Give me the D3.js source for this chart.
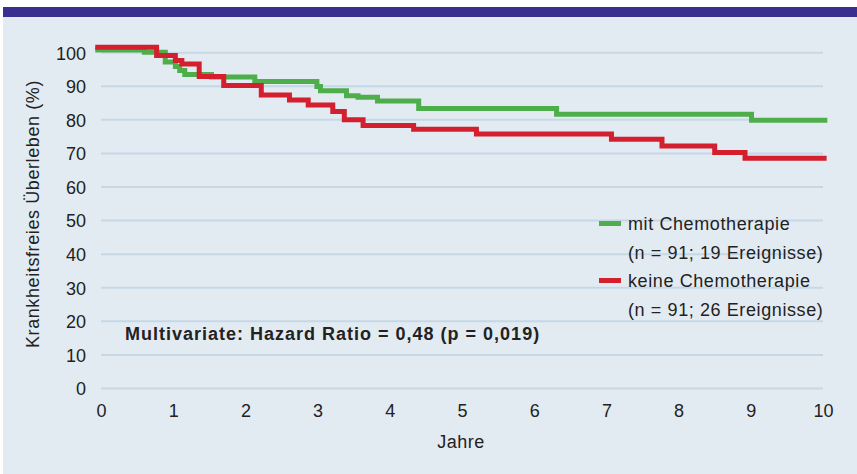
<!DOCTYPE html>
<html>
<head>
<meta charset="utf-8">
<script src="https://cdn.jsdelivr.net/npm/d3@7"></script>
<style>
  body { margin: 0; background: #fff; }
  text { font-family: "Liberation Sans", Arial, sans-serif; fill: #222; }
</style>
</head>
<body>
<script>
// survival steps: [years, percent]
var mitChemo = [
  [-0.08, 100.8], [0.60, 100.1], [0.89, 97.2], [1.03, 95.9], [1.09, 94.7],
  [1.16, 93.5], [1.53, 92.8], [2.13, 91.4], [2.99, 89.9], [3.04, 88.7],
  [3.40, 87.2], [3.56, 86.7], [3.83, 85.6], [4.40, 83.4], [6.31, 81.7],
  [9.01, 79.9], [10.06, 79.9]
];
var keineChemo = [
  [-0.08, 101.6], [0.77, 99.2], [1.03, 97.7], [1.12, 96.6], [1.36, 92.9],
  [1.70, 90.2], [2.22, 87.4], [2.61, 85.9], [2.87, 84.4], [3.21, 82.5],
  [3.37, 80.0], [3.63, 78.3], [4.33, 77.2], [5.20, 75.8], [7.07, 74.2],
  [7.77, 72.2], [8.50, 70.3], [8.92, 68.6], [10.05, 68.6]
];
var xTicks = [0, 1, 2, 3, 4, 5, 6, 7, 8, 9, 10];
var yTicks = [0, 10, 20, 30, 40, 50, 60, 70, 80, 90, 100];
var legendLabels = [
  ["mit Chemotherapie", "(n = 91; 19 Ereignisse)"],
  ["keine Chemotherapie", "(n = 91; 26 Ereignisse)"]
];
var seriesColors = ["#4fae4c", "#d41f2f"];

var width = 857, height = 474;

var svg = d3.select("body").append("svg")
    .attr("width", width)
    .attr("height", height);

// panel background + top bar
svg.append("rect")
    .attr("x", 3).attr("y", 17)
    .attr("width", width - 3).attr("height", height - 17)
    .attr("fill", "#e3ebf2");
svg.append("rect")
    .attr("x", 3).attr("y", 7)
    .attr("width", width - 3).attr("height", 10)
    .attr("fill", "#3a2f8f");

var x = d3.scaleLinear().domain([0, 10]).range([101, 823]);
var y = d3.scaleLinear().domain([0, 100]).range([388.5, 52.7]);

// gridlines
svg.append("g").selectAll("line")
    .data(yTicks)
  .enter().append("line")
    .attr("x1", x(0)).attr("x2", x(10))
    .attr("y1", function(d) { return y(d); })
    .attr("y2", function(d) { return y(d); })
    .attr("stroke", "#c6d7e6")
    .attr("stroke-width", 2);

var yAxis = svg.append("g")
    .attr("transform", "translate(86,0)")
    .call(d3.axisLeft(y).tickValues(yTicks).tickSize(0).tickPadding(0));
yAxis.select(".domain").remove();
yAxis.selectAll("text")
    .style("font-size", "18px")
    .attr("fill", "#222")
    .attr("dy", "0.35em");

var xAxis = svg.append("g")
    .attr("transform", "translate(0,404)")
    .call(d3.axisBottom(x).tickValues(xTicks).tickSize(0).tickPadding(0));
xAxis.select(".domain").remove();
xAxis.selectAll("text")
    .style("font-size", "18px")
    .attr("fill", "#222")
    .attr("dy", "0.71em");

svg.append("text")
    .attr("x", 461).attr("y", 448)
    .attr("text-anchor", "middle")
    .style("font-size", "18px")
    .style("letter-spacing", "0.5px")
    .text("Jahre");

svg.append("text")
    .attr("transform", "translate(39,214) rotate(-90)")
    .attr("text-anchor", "middle")
    .style("font-size", "18px")
    .style("letter-spacing", "0.6px")
    .text("Krankheitsfreies Überleben (%)");

// curves
var line = d3.line()
    .curve(d3.curveStepAfter)
    .x(function(d) { return x(d[0]); })
    .y(function(d) { return y(d[1]); });

[mitChemo, keineChemo].forEach(function(s, i) {
  svg.append("path")
      .attr("d", line(s))
      .attr("fill", "none")
      .attr("stroke", seriesColors[i])
      .attr("stroke-width", 5);
});

// legend
var legend = svg.append("g");
legendLabels.forEach(function(lab, i) {
  var top = 223.5 + i * 57;
  legend.append("rect")
      .attr("x", 599).attr("y", top - 2.5)
      .attr("width", 22).attr("height", 5)
      .attr("fill", seriesColors[i]);
  legend.append("text")
      .attr("x", 628).attr("y", top + 6.5)
      .style("font-size", "18px")
      .style("letter-spacing", "0.6px")
      .text(lab[0]);
  legend.append("text")
      .attr("x", 628).attr("y", top + 35.5)
      .style("font-size", "18px")
      .style("letter-spacing", "0.6px")
      .text(lab[1]);
});

svg.append("text")
    .attr("x", 125).attr("y", 340)
    .style("font-size", "18px")
    .style("font-weight", "bold")
    .style("letter-spacing", "1px")
    .text("Multivariate: Hazard Ratio = 0,48 (p = 0,019)");
</script>
</body>
</html>
